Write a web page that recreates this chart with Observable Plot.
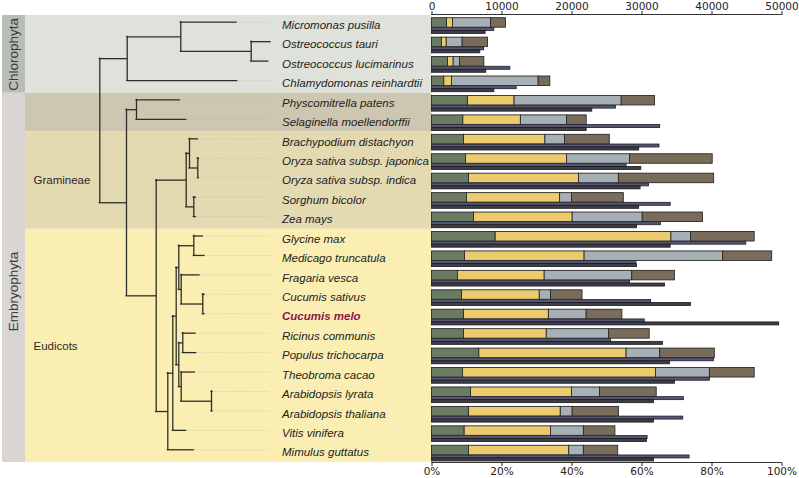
<!DOCTYPE html>
<html>
<head>
<meta charset="utf-8">
<script src="https://cdn.jsdelivr.net/npm/d3@7"></script>
<script src="https://cdn.jsdelivr.net/npm/@observablehq/plot@0.6"></script>
<style>
  html, body { margin: 0; padding: 0; background: #fff; }
  #wrap { position: relative; width: 799px; height: 478px; overflow: hidden; }
  #wrap > svg { position: absolute; left: 0; top: 0; }
</style>
</head>
<body>
<div id="wrap"></div>
<script>
// ---------------- data ----------------
const species = [
  "Micromonas pusilla", "Ostreococcus tauri", "Ostreococcus lucimarinus", "Chlamydomonas reinhardtii",
  "Physcomitrella patens", "Selaginella moellendorffii",
  "Brachypodium distachyon", "Oryza sativa subsp. japonica", "Oryza sativa subsp. indica", "Sorghum bicolor", "Zea mays",
  "Glycine max", "Medicago truncatula", "Fragaria vesca", "Cucumis sativus", "Cucumis melo",
  "Ricinus communis", "Populus trichocarpa", "Theobroma cacao", "Arabidopsis lyrata", "Arabidopsis thaliana",
  "Vitis vinifera", "Mimulus guttatus"
];
const highlighted = "Cucumis melo";

// stacked bar segments (counts, top axis)
const segGreen  = [2140, 1430, 2290, 1760, 5140, 4480, 4570, 4860, 5290, 5000, 6000, 9100, 4710, 3710, 4290, 4570, 4570, 6760, 4430, 5570, 5290, 4670, 5290];
const segYellow = [860, 670, 810, 1100, 6660, 8220, 11630, 14440, 15710, 13300, 14100, 25100, 17090, 12390, 11110, 12130, 11830, 21040, 27570, 14430, 13110, 12330, 14310];
const segGray   = [5430, 2280, 900, 12380, 15300, 6600, 2800, 9000, 5700, 1700, 10000, 2800, 19800, 12500, 1600, 5400, 8900, 4800, 7700, 4000, 1700, 4700, 2100];
const segBrown  = [2140, 3620, 3480, 1660, 4760, 2800, 6400, 11800, 13600, 7400, 8600, 9100, 7000, 6100, 4500, 5100, 5800, 7800, 6400, 8100, 6600, 4500, 4900];

// thin bars (percent, bottom axis)
const thinUpperPct = [17.8, 14.9, 22.4, 24.2, 52.6, 65.2, 65.0, 55.6, 62.0, 68.2, 65.4, 89.8, 58.4, 56.6, 62.6, 60.8, 51.2, 80.6, 79.4, 72.0, 71.8, 61.6, 73.6];
const thinLowerPct = [15.3, 13.8, 15.5, 17.8, 45.8, 44.2, 59.2, 59.8, 59.6, 59.2, 58.6, 68.2, 58.6, 66.6, 74.0, 99.2, 66.0, 68.0, 69.4, 63.4, 63.4, 61.4, 63.4];

// axes
const countTicks = [0, 10000, 20000, 30000, 40000, 50000];
const countTickLabels = ["0", "10000", "20000", "30000", "40000", "50000"];
const pctTickLabels = ["0%", "20%", "40%", "60%", "80%", "100%"];

// clades (row ranges)
const groupNames = ["Chlorophyta", "Bryophyta", "Gramineae", "Eudicots"];
const groupFirst = [0, 4, 6, 11];
const groupLast  = [3, 5, 10, 22];
const groupLabels = ["", "", "Gramineae", "Eudicots"];
const kingdomNames = ["Chlorophyta", "Embryophyta"];
const kingdomFirst = [0, 4];
const kingdomLast  = [3, 22];

// tree: leaves are row indices into `species`, with branch lengths
const treeNewick =
  "(((0:0.557,(1:0.193,2:0.170):0.704):0.536,3:1.100):0.274," +
  "((4:0.433,5:0.497):0.100," +
  "(((6:0.083,(7:0.010,8:0.010):0.083):0.033,(9:0.020,10:0.020):0.076):0.300," +
  "(22:0.260,(21:0.134,(((11:0.090,12:0.107):0.150,(13:0.183,(14:0.017,15:0.017):0.216):0.024):0.026," +
  "((16:0.127,17:0.134):0.040,(18:0.136,(19:0.010,20:0.010):0.303):0.024):0.026):0.034):0.050):0.116):0.297):0.267);";

// ---------------- styles ----------------
const groupFill = ["#dee2db", "#cdc7b1", "#e3dab2", "#fbeeb3"];
const kingdomFill = ["#b8beb6", "#d9d5d2"];
const segColors = ["#6b7b62", "#ebcb6e", "#a7b0b4", "#7a6c5b"];

// ---------------- tree layout ----------------
function parseNewick(s) {
  let i = 0;
  function node() {
    const n = {children: []};
    if (s[i] === "(") {
      i++;
      n.children.push(node());
      while (s[i] === ",") { i++; n.children.push(node()); }
      i++;
    }
    let name = "";
    while (i < s.length && !":,();".includes(s[i])) name += s[i++];
    if (name !== "") n.leaf = +name;
    if (s[i] === ":") {
      i++;
      let num = "";
      while (i < s.length && !",();".includes(s[i])) num += s[i++];
      n.len = +num;
    }
    return n;
  }
  return node();
}
const tipShift = 0.154;
const tree = parseNewick(treeNewick);
const hEdges = [], vEdges = [], tips = [];
(function layout(n, depth) {
  n.x = depth + (n.len || 0);
  if (n.children.length === 0) {
    n.y = n.leaf - tipShift;
    tips.push(n);
  } else {
    n.children.forEach(c => layout(c, n.x));
    const ys = n.children.map(c => c.y);
    n.y = (d3.min(ys) + d3.max(ys)) / 2;
    vEdges.push({x: n.x, y1: d3.min(ys), y2: d3.max(ys)});
    n.children.forEach(c => hEdges.push({x1: n.x, x2: c.x, y: c.y}));
  }
})(tree, 0);
const treeMax = d3.max(tips, d => d.x);

const rows = species.map((name, i) => ({name, i}));
const groups = groupNames.map((name, k) => ({name, k, first: groupFirst[k], last: groupLast[k], label: groupLabels[k]}));
const kingdoms = kingdomNames.map((name, k) => ({name, k, first: kingdomFirst[k], last: kingdomLast[k]}));

// ---------------- left panel: clades + tree + names ----------------
const tx0 = 99.3, tUnit = 100;               // tree scale: pixel = tx0 + dist*tUnit
const px = p => (p - tx0) / tUnit;           // pixel -> tree units for decorations
const yDomain = [-0.5, 22.5], yRange = [15, 462];

const left = Plot.plot({
  width: 799, height: 478,
  marginTop: 0, marginBottom: 0, marginLeft: 0, marginRight: 0,
  style: {fontFamily: "'Liberation Sans', Arial, sans-serif", background: "white"},
  x: {domain: [0, 1.71], range: [tx0, tx0 + 1.71 * tUnit], axis: null},
  y: {domain: yDomain, range: yRange, axis: null},
  marks: [
    Plot.rect(groups, {x1: px(25), x2: px(431.5), y1: d => d.first - 0.5, y2: d => d.last + 0.5, fill: d => groupFill[d.k]}),
    Plot.rect(kingdoms, {x1: px(2), x2: px(25), y1: d => d.first - 0.5, y2: d => d.last + 0.5, fill: d => kingdomFill[d.k]}),
    Plot.text(kingdoms.filter(d => d.k === 0), {x: px(13.5), y: d => (d.first + d.last) / 2, text: "name", rotate: -90, fontSize: 13.5, fill: "#3a3a3a"}),
    Plot.text(kingdoms.filter(d => d.k === 1), {x: px(13.5), y: d => (d.first + d.last) / 2 + 0.7, text: "name", rotate: -90, fontSize: 13.5, fill: "#3a3a3a"}),
    Plot.text(groups.filter(d => d.label), {x: px(33), y: d => (d.first + d.last) / 2, text: "label", textAnchor: "start", fontSize: 11.5, fill: "#2a2a2a"}),
    // dotted leaders
    Plot.ruleY(tips, {y: "y", x1: "x", x2: treeMax, stroke: "#b5b09a", strokeWidth: 0.8, strokeDasharray: "1,1.5", strokeOpacity: 0.7}),
    // tree branches
    Plot.ruleY(hEdges, {y: "y", x1: "x1", x2: "x2", stroke: "#2e2e28", strokeWidth: 1.3, strokeLinecap: "square"}),
    Plot.ruleX(vEdges, {x: "x", y1: "y1", y2: "y2", stroke: "#2e2e28", strokeWidth: 1.3, strokeLinecap: "square"}),
    // species names
    Plot.text(rows.filter(d => d.name !== highlighted), {x: treeMax, dx: 11.5, y: "i", text: "name", textAnchor: "start", fontStyle: "italic", fontSize: 11.5, fill: "#222"}),
    Plot.text(rows.filter(d => d.name === highlighted), {x: treeMax, dx: 11.5, y: "i", text: "name", textAnchor: "start", fontStyle: "italic", fontWeight: "bold", fontSize: 11.5, fill: "#8a1445"})
  ]
});

// ---------------- right panel: bars ----------------
const stacked = [];
const segArrays = [segGreen, segYellow, segGray, segBrown];
species.forEach((s, i) => {
  let acc = 0;
  segArrays.forEach((arr, k) => {
    stacked.push({i, k, x1: acc, x2: acc + arr[i]});
    acc += arr[i];
  });
});
const pctToCount = p => p / 100 * 50000;

const right = Plot.plot({
  width: 799, height: 478,
  marginTop: 14, marginBottom: 16, marginLeft: 431.5, marginRight: 17.5,
  style: {fontFamily: "'DejaVu Sans', sans-serif", background: "transparent", color: "#222"},
  x: {domain: [0, 50000]},
  y: {domain: yDomain, range: yRange, axis: null},
  color: {type: "ordinal", domain: [0, 1, 2, 3], range: segColors},
  marks: [
    Plot.rect(rows, {x1: 0, x2: d => pctToCount(thinUpperPct[d.i]), y1: d => d.i + 0.138, y2: d => d.i + 0.292, fill: "#555578", stroke: "#1e1e2a", strokeWidth: 0.8}),
    Plot.rect(rows, {x1: 0, x2: d => pctToCount(thinLowerPct[d.i]), y1: d => d.i + 0.292, y2: d => d.i + 0.447, fill: "#3e3e48", stroke: "#1a1a1a", strokeWidth: 0.8}),
    Plot.rect(stacked, {x1: "x1", x2: "x2", y1: d => d.i - 0.361, y2: d => d.i + 0.128, fill: "k", stroke: "#2a2a2a", strokeWidth: 0.9}),
    Plot.ruleY([yDomain[0]], {x1: 0, x2: 50000, dy: -1, stroke: "#333", strokeWidth: 1}),
    Plot.ruleY([yDomain[1]], {x1: 0, x2: 50000, stroke: "#333", strokeWidth: 1}),
    Plot.axisX({anchor: "top", ticks: countTicks, tickFormat: (d, i) => countTickLabels[i], tickSize: 4, tickPadding: 1, fontSize: 10.5}),
    Plot.axisX({anchor: "bottom", ticks: countTicks, tickFormat: (d, i) => pctTickLabels[i], tickSize: 4, tickPadding: 1, fontSize: 10.5})
  ]
});

document.getElementById("wrap").append(left, right);
</script>
</body>
</html>
